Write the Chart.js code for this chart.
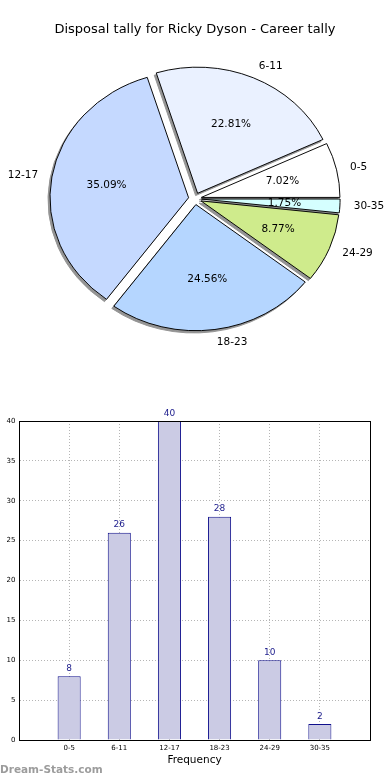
<!DOCTYPE html>
<html>
<head>
<meta charset="utf-8">
<script src="https://cdn.jsdelivr.net/npm/chart.js@4.4.1/dist/chart.umd.min.js"></script>
<style>
body { margin: 0; background: #fff; width: 390px; height: 780px; position: relative; overflow: hidden; }
#cajaTorta { position: absolute; left: 0; top: 0; width: 390px; height: 380px; }
#cajaBarras { position: absolute; left: 0; top: 400px; width: 390px; height: 380px; }
#marca { position: absolute; left: 0; top: 763px; font: bold 10.5px "DejaVu Sans"; color: #9c9c9c; }
</style>
</head>
<body>
<div id="cajaTorta"><canvas id="graficoTorta"></canvas></div>
<div id="cajaBarras"><canvas id="graficoBarras"></canvas></div>
<div id="marca">Dream-Stats.com</div>
<script>
// Datos
const rangos = ['0-5', '6-11', '12-17', '18-23', '24-29', '30-35'];
const cantidades = [8, 26, 40, 28, 10, 2];
const colores = ['#ffffff', '#eaf1ff', '#c5d9ff', '#b5d6ff', '#cfeb8c', '#d5ffff'];
const ticksY = [0, 5, 10, 15, 20, 25, 30, 35, 40];

const total = cantidades.reduce((a, b) => a + b, 0);
const fuente = 'DejaVu Sans';

// Chart.js dibuja en sentido horario, matplotlib al reves: invierto el orden
const rangosTorta = rangos.slice().reverse();
const cantidadesTorta = cantidades.slice().reverse();
const coloresTorta = colores.slice().reverse();

const ACHATADO = 0.91;   // la torta original es una elipse
const EXPLOTA = 6.5;     // separacion de las porciones (px)

const tortaElipse = {
    id: 'tortaElipse',
    beforeDatasetsDraw(chart) {
        const ctx = chart.ctx;
        const arcos = chart.getDatasetMeta(0).data;
        const cx = arcos[0].x, cy = arcos[0].y;
        ctx.save();
        ctx.translate(cx, cy);
        ctx.scale(1, ACHATADO);
        ctx.translate(-cx, -cy);
        // sombras primero, detras de todo
        arcos.forEach(arco => {
            const medio = (arco.startAngle + arco.endAngle) / 2;
            const orig = arco.options;
            arco.options = Object.assign({}, orig, { backgroundColor: '#949494', borderColor: '#949494' });
            ctx.save();
            ctx.translate(Math.cos(medio) * EXPLOTA - 2, Math.sin(medio) * EXPLOTA + 2.5);
            arco.draw(ctx);
            ctx.restore();
            arco.options = orig;
        });
        arcos.forEach(arco => {
            const medio = (arco.startAngle + arco.endAngle) / 2;
            ctx.save();
            ctx.translate(Math.cos(medio) * EXPLOTA, Math.sin(medio) * EXPLOTA);
            arco.draw(ctx);
            ctx.restore();
        });
        ctx.restore();
        return false;
    },
    afterDraw(chart) {
        const ctx = chart.ctx;
        const arcos = chart.getDatasetMeta(0).data;
        ctx.save();
        ctx.fillStyle = '#000';
        ctx.font = '10.5px "' + fuente + '"';
        ctx.textBaseline = 'middle';
        arcos.forEach((arco, i) => {
            const medio = (arco.startAngle + arco.endAngle) / 2;
            const c = Math.cos(medio), s = Math.sin(medio);
            const R = arco.outerRadius;
            const ox = arco.x + c * EXPLOTA;
            const oy = arco.y + s * EXPLOTA * ACHATADO;
            ctx.textAlign = c >= 0 ? 'left' : 'right';
            ctx.fillText(rangosTorta[i], ox + c * R * 1.1, oy + s * R * 1.1 * ACHATADO);
            ctx.textAlign = 'center';
            const pct = (cantidadesTorta[i] / total * 100).toFixed(2) + '%';
            ctx.fillText(pct, ox + c * R * 0.6, oy + s * R * 0.6 * ACHATADO);
        });
        ctx.restore();
    }
};

new Chart(document.getElementById('graficoTorta'), {
    type: 'pie',
    data: {
        labels: rangosTorta,
        datasets: [{
            data: cantidadesTorta,
            backgroundColor: coloresTorta,
            borderColor: '#000',
            borderWidth: 1,
            radius: 138.6,
            clip: false
        }]
    },
    options: {
        responsive: true,
        maintainAspectRatio: false,
        animation: false,
        rotation: 90,
        layout: { padding: { top: 0, bottom: 20.4, left: 0, right: 0 } },
        plugins: {
            legend: { display: false },
            tooltip: { enabled: false },
            title: {
                display: true,
                text: 'Disposal tally for Ricky Dyson - Career tally',
                color: '#000',
                font: { family: fuente, size: 13, weight: 'normal' },
                padding: { top: 22.2, bottom: 0 }
            }
        }
    },
    plugins: [tortaElipse]
});

// marco completo alrededor del area de dibujo
const marco = {
    id: 'marco',
    afterDraw(chart) {
        const { ctx, chartArea: a } = chart;
        ctx.save();
        ctx.strokeStyle = '#000';
        ctx.lineWidth = 1;
        ctx.strokeRect(Math.round(a.left) + 0.5, Math.round(a.top) + 0.5,
            Math.round(a.right - a.left), Math.round(a.bottom - a.top));
        ctx.restore();
    }
};

const etiquetasBarras = {
    id: 'etiquetasBarras',
    afterDatasetsDraw(chart) {
        const ctx = chart.ctx;
        const barras = chart.getDatasetMeta(0).data;
        ctx.save();
        ctx.fillStyle = '#1c1c8c';
        ctx.font = '9px "' + fuente + '"';
        ctx.textAlign = 'center';
        ctx.textBaseline = 'alphabetic';
        barras.forEach((b, i) => {
            ctx.fillText(String(cantidades[i]), b.x, b.y - 5.5);
        });
        ctx.restore();
    }
};

new Chart(document.getElementById('graficoBarras'), {
    type: 'bar',
    data: {
        datasets: [{
            data: rangos.map((r, i) => ({ x: i + 1, y: cantidades[i] })),
            backgroundColor: '#cbcbe4',
            borderColor: '#10108c',
            borderWidth: 1,
            barPercentage: 0.46,
            categoryPercentage: 1
        }]
    },
    options: {
        responsive: true,
        maintainAspectRatio: false,
        animation: false,
        layout: { padding: { top: 21, right: 20, left: 0, bottom: 0 } },
        plugins: {
            legend: { display: false },
            tooltip: { enabled: false }
        },
        scales: {
            x: {
                type: 'linear',
                min: 0,
                max: 7,
                offset: false,
                z: 1,
                afterBuildTicks: s => { s.ticks = rangos.map((r, i) => ({ value: i + 1 })); },
                afterFit: s => { s.height = 40; },
                ticks: {
                    callback: v => rangos[v - 1],
                    color: '#000',
                    font: { family: fuente, size: 7 },
                    padding: 4,
                    maxRotation: 0,
                    autoSkip: false
                },
                grid: { color: '#b5b5b5', drawTicks: false, offset: false },
                border: { color: '#000', dash: [1, 2] },
                title: {
                    display: true,
                    text: 'Frequency',
                    color: '#000',
                    font: { family: fuente, size: 10.5 },
                    padding: { top: 0, bottom: 13.7 }
                }
            },
            y: {
                min: 0,
                max: 40,
                z: 1,
                afterBuildTicks: s => { s.ticks = ticksY.map(v => ({ value: v })); },
                afterFit: s => { s.width = 19; },
                ticks: {
                    color: '#000',
                    font: { family: fuente, size: 7 },
                    padding: 3.5
                },
                grid: { color: '#b5b5b5', drawTicks: false },
                border: { color: '#000', dash: [1, 2] }
            }
        }
    },
    plugins: [marco, etiquetasBarras]
});
</script>
</body>
</html>
